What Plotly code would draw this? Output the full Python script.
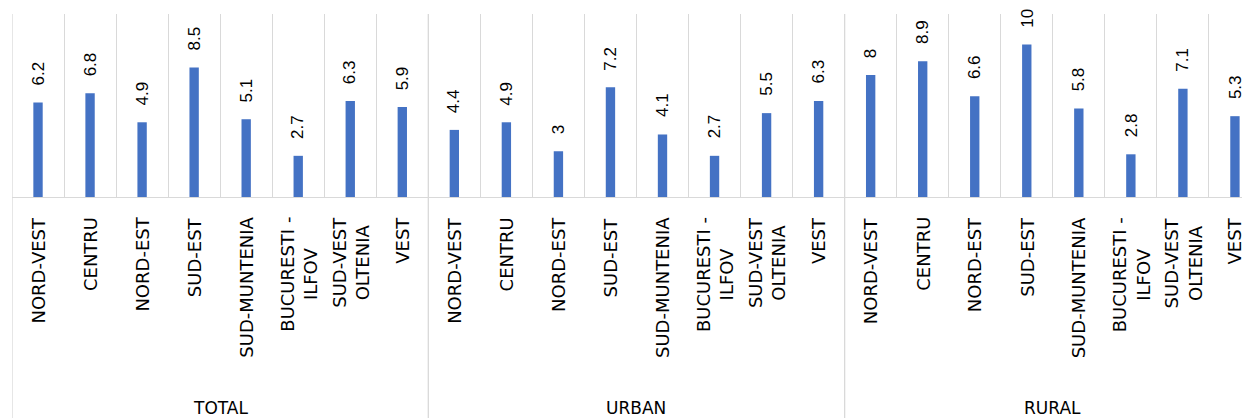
import plotly.graph_objects as go

groups = ["TOTAL", "URBAN", "RURAL"]
regions = ["NORD-VEST", "CENTRU", "NORD-EST", "SUD-EST", "SUD-MUNTENIA",
           "BUCURESTI -<br>ILFOV", "SUD-VEST<br>OLTENIA", "VEST"]
total = [6.2, 6.8, 4.9, 8.5, 5.1, 2.7, 6.3, 5.9]
urban = [4.4, 4.9, 3, 7.2, 4.1, 2.7, 5.5, 6.3]
rural = [8, 8.9, 6.6, 10, 5.8, 2.8, 7.1, 5.3]

values = total + urban + rural
n = len(regions)
xs = list(range(len(values)))

BAR = "#4472C4"
GRID = "#D9D9D9"
TXT = "#000000"
VFONT = "Liberation Sans"
CFONT = "DejaVu Sans"

# page has an 8px body margin; size the figure so the plot lands where the reference has it
OFF = 8
W, H = 1250 - OFF, 418 - OFF
ML, MR, MT = 12 - OFF, 0, 14 - OFF
base_y = 197 - OFF
MB = H - base_y
plot_h = base_y - MT
px_per_cat = 52.04
xmax = -0.5 + (W - ML - MR) / px_per_cat

fig = go.Figure()
fig.add_trace(go.Bar(x=xs, y=values, width=0.18, marker=dict(color=BAR, line=dict(width=0)),
                     hoverinfo="skip"))

ann = []
for x, v in zip(xs, values):
    ann.append(dict(x=x, y=v, xref="x", yref="y", text=f"{v:g}", showarrow=False,
                    textangle=-90, yanchor="bottom", xanchor="center", yshift=16,
                    borderpad=0,
                    font=dict(family=VFONT, size=17, color=TXT)))
for gi, g in enumerate(groups):
    for ri, r in enumerate(regions):
        ann.append(dict(x=gi * n + ri, y=-(215 - 197) / plot_h,
                        xref="x", yref="paper", text=r, showarrow=False, textangle=-90,
                        yanchor="top", xanchor="center", align="center",
                        font=dict(family=CFONT, size=18, color=TXT)))
    ann.append(dict(x=gi * n + (n - 1) / 2, y=-(407.5 - 197) / plot_h, xref="x", yref="paper",
                    text=g, showarrow=False, yanchor="middle", xanchor="center", borderpad=0,
                    font=dict(family=CFONT, size=17, color=TXT)))

shapes = []
for gi in range(len(groups) + 1):
    shapes.append(dict(type="line", xref="x", yref="paper", x0=gi * n - 0.5, x1=gi * n - 0.5,
                       y0=1, y1=-MB / plot_h, line=dict(color=GRID, width=1.3), layer="below"))

fig.update_layout(
    width=W, height=H, margin=dict(l=ML, r=MR, t=MT, b=MB, pad=0),
    plot_bgcolor="white", paper_bgcolor="white", showlegend=False,
    annotations=ann, shapes=shapes,
    xaxis=dict(range=[-0.5, xmax], tickvals=[i - 0.5 for i in range(len(values) + 1)],
               showticklabels=False, ticks="", showgrid=True, gridcolor=GRID, gridwidth=1.3,
               showline=True, linecolor=GRID, linewidth=1.3, zeroline=False, fixedrange=True),
    yaxis=dict(range=[0, 12], showgrid=False, showticklabels=False, ticks="",
               zeroline=False, showline=False, fixedrange=True),
)
fig.write_html("out.html")
